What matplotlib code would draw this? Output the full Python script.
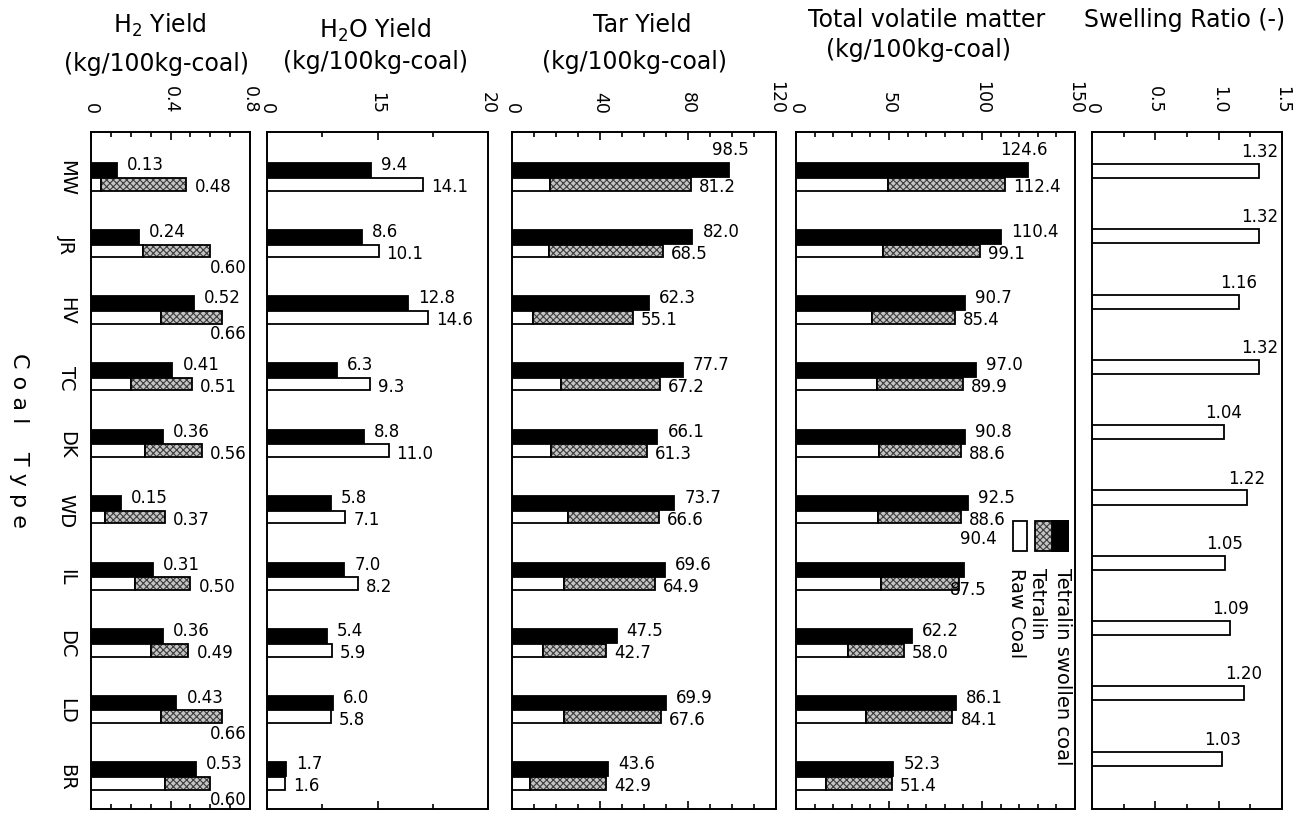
import matplotlib.pyplot as plt
from matplotlib.patches import Rectangle
from matplotlib.ticker import FixedLocator, MultipleLocator

# === DATA ===
coals = ["MW", "JR", "HV", "TC", "DK", "WD", "IL", "DC", "LD", "BR"]

# H2 yield, kg/100kg-coal
h2_swollen = [0.13, 0.24, 0.52, 0.41, 0.36, 0.15, 0.31, 0.36, 0.43, 0.53]
h2_raw = [0.05, 0.26, 0.35, 0.20, 0.27, 0.07, 0.22, 0.30, 0.35, 0.37]
h2_raw_tetralin = [0.48, 0.60, 0.66, 0.51, 0.56, 0.37, 0.50, 0.49, 0.66, 0.60]

# H2O yield
h2o_swollen = [9.4, 8.6, 12.8, 6.3, 8.8, 5.8, 7.0, 5.4, 6.0, 1.7]
h2o_raw = [14.1, 10.1, 14.6, 9.3, 11.0, 7.1, 8.2, 5.9, 5.8, 1.6]

# Tar yield
tar_swollen = [98.5, 82.0, 62.3, 77.7, 66.1, 73.7, 69.6, 47.5, 69.9, 43.6]
tar_raw = [17.3, 17.0, 9.5, 22.3, 17.6, 25.5, 23.6, 14.0, 23.6, 8.0]
tar_raw_tetralin = [81.2, 68.5, 55.1, 67.2, 61.3, 66.6, 64.9, 42.7, 67.6, 42.9]

# Total volatile matter
tvm_swollen = [124.6, 110.4, 90.7, 97.0, 90.8, 92.5, 90.4, 62.2, 86.1, 52.3]
tvm_raw = [49.5, 47.0, 41.0, 43.5, 44.6, 44.0, 45.6, 28.0, 37.6, 16.0]
tvm_raw_tetralin = [112.4, 99.1, 85.4, 89.9, 88.6, 88.6, 87.5, 58.0, 84.1, 51.4]

# Swelling ratio (-)
swelling = [1.32, 1.32, 1.16, 1.32, 1.04, 1.22, 1.05, 1.09, 1.20, 1.03]

# === STYLE ===
plt.rcParams["font.family"] = ["DejaVu Sans"]
plt.rcParams["mathtext.default"] = "regular"
plt.rcParams["hatch.linewidth"] = 0.8

W, H = 1297, 820
PT = 72 / 100  # points per pixel
TOP, BOT = 133, 810
STIP_FC, STIP_HC = "#c4c4c4", "#3c3c3c"
LW = 1.3

fig = plt.figure(figsize=(W / 100, H / 100), dpi=100)


def digit_w(s):
    return sum(5.3 if c == "." else 10.6 for c in s)


def place(ax, val, y, txt, dx, dy, ha):
    ax.annotate(txt, xy=(val, y), xytext=(dx * PT, dy * PT),
                textcoords="offset points", ha=ha, va="center",
                fontsize=12, annotation_clip=False)


def top_label(ax, x0, x1, xmax, val, y, txt, force=None):
    if force:
        place(ax, val, y, txt, *force)
        return
    end = x0 + val / xmax * (x1 - x0)
    if end + 10 + digit_w(txt) > x1 - 1:
        place(ax, val, y, txt, min(20, x1 - 4 - end), 21, "right")
    else:
        place(ax, val, y, txt, 10, 6, "left")


def low_label(ax, x0, x1, xmax, val, y, txt, force=None):
    if force:
        place(ax, val, y, txt, *force)
        return
    end = x0 + val / xmax * (x1 - x0)
    if end + 8 + digit_w(txt) > x1 - 1:
        place(ax, val, y, txt, x1 - 3 - end, -16, "right")
    else:
        place(ax, val, y, txt, 8, -2, "left")


def stipple_barh(ax, y, width, left, height):
    ax.barh(y, width, left=left, height=height, color=STIP_FC,
            hatch="xxxxx", edgecolor=STIP_HC, linewidth=0)
    ax.barh(y, width, left=left, height=height, fill=False,
            edgecolor="black", linewidth=LW)


def setup_axis(ax, xmax, major, labels, minor):
    ax.set_xlim(0, xmax)
    ax.xaxis.set_major_locator(FixedLocator(major))
    ax.set_xticklabels(labels, rotation=-90, fontsize=12.5)
    ax.xaxis.set_minor_locator(MultipleLocator(minor))
    ax.tick_params(axis="x", which="both", direction="in", top=True,
                   bottom=True, labeltop=True, labelbottom=False, width=1.2)
    ax.tick_params(axis="x", which="major", length=6, pad=14)
    ax.tick_params(axis="x", which="minor", length=3.5)
    for sp in ax.spines.values():
        sp.set_linewidth(1.4)


panels = [
    dict(key="h2", px=(91, 250), xmax=0.8, major=[0, 0.4, 0.8],
         labels=["0", "0.4", "0.8"], minor=0.1, fmt="{:.2f}",
         top=h2_swollen, raw=h2_raw, total=h2_raw_tetralin),
    dict(key="h2o", px=(267, 488), xmax=20, major=[0, 10, 20],
         labels=["0", "15", "20"], minor=5, fmt="{:.1f}",
         top=h2o_swollen, raw=h2o_raw, total=None),
    dict(key="tar", px=(512, 776), xmax=120, major=[0, 40, 80, 120],
         labels=["0", "40", "80", "120"], minor=10, fmt="{:.1f}",
         top=tar_swollen, raw=tar_raw, total=tar_raw_tetralin),
    dict(key="tvm", px=(796, 1075), xmax=150, major=[0, 50, 100, 150],
         labels=["0", "50", "100", "150"], minor=10, fmt="{:.1f}",
         top=tvm_swollen, raw=tvm_raw, total=tvm_raw_tetralin),
]

# labels moved by hand in the original to clear the legend
overrides = {("tvm", 6, "top"): (-4, 32, "left"),
             ("tvm", 6, "low"): (-9, -5, "left")}

off = 0.105
axes = {}
for p in panels:
    x0, x1 = p["px"]
    ax = fig.add_axes([x0 / W, 1 - BOT / H, (x1 - x0) / W, (BOT - TOP) / H])
    axes[p["key"]] = ax
    setup_axis(ax, p["xmax"], p["major"], p["labels"], p["minor"])
    ax.set_ylim(9.49, -0.68)
    for i in range(len(coals)):
        ax.barh(i - off, p["top"][i], height=0.21, color="black",
                edgecolor="black", linewidth=LW)
        ax.barh(i + off, p["raw"][i], height=0.19, color="white",
                edgecolor="black", linewidth=LW)
        low_val = p["raw"][i]
        if p["total"] is not None:
            stipple_barh(ax, i + off, p["total"][i] - p["raw"][i],
                         p["raw"][i], 0.19)
            low_val = p["total"][i]
        top_label(ax, x0, x1, p["xmax"], p["top"][i], i - off,
                  p["fmt"].format(p["top"][i]),
                  overrides.get((p["key"], i, "top")))
        low_label(ax, x0, x1, p["xmax"], low_val, i + off,
                  p["fmt"].format(low_val),
                  overrides.get((p["key"], i, "low")))
    if p["key"] == "h2":
        ax.set_yticks(range(len(coals)))
        ax.set_yticklabels(coals, rotation=-90, va="center", fontsize=14)
        ax.tick_params(axis="y", length=0, pad=11)
    else:
        ax.set_yticks([])

# swelling ratio panel
ax5 = fig.add_axes([1092 / W, 1 - BOT / H, (1282 - 1092) / W, (BOT - TOP) / H])
setup_axis(ax5, 1.5, [0, 0.5, 1.0, 1.5], ["0", "0.5", "1.0", "1.5"], 0.25)
ax5.set_ylim(9.77, -0.597)
ax5.set_yticks([])
ax5.barh(range(len(coals)), swelling, height=0.215, color="white",
         edgecolor="black", linewidth=LW)
for i, v in enumerate(swelling):
    place(ax5, v, i, f"{v:.2f}", 0, 20, "center")

# legend inside the total volatile matter panel
axl = axes["tvm"]
axl.add_patch(Rectangle((0.778, 0.381), 0.05, 0.044, transform=axl.transAxes,
                        facecolor="white", edgecolor="black", lw=LW))
axl.add_patch(Rectangle((0.857, 0.381), 0.061, 0.044, transform=axl.transAxes,
                        facecolor=STIP_FC, hatch="xxxxx", edgecolor=STIP_HC, lw=0))
axl.add_patch(Rectangle((0.918, 0.381), 0.058, 0.044, transform=axl.transAxes,
                        facecolor="black", edgecolor="black", lw=LW))
axl.add_patch(Rectangle((0.857, 0.381), 0.119, 0.044, transform=axl.transAxes,
                        fill=False, edgecolor="black", lw=LW))
for xt, s in [(0.792, "Raw Coal"), (0.867, "Tetralin"),
              (0.955, "Tetralin swollen coal")]:
    axl.text(xt, 0.357, s, transform=axl.transAxes, rotation=-90,
             ha="center", va="top", fontsize=14)

# titles
titles = [
    ("H$_2$ Yield", 160, 25), ("(kg/100kg-coal)", 156, 64),
    ("H$_2$O Yield", 375, 30), ("(kg/100kg-coal)", 375, 62),
    ("Tar Yield", 642, 25), ("(kg/100kg-coal)", 634, 62),
    ("Total volatile matter", 927, 20), ("(kg/100kg-coal)", 919, 50),
    ("Swelling Ratio (-)", 1185, 20),
]
for s, x, y in titles:
    fig.text(x / W, 1 - y / H, s, ha="center", va="center", fontsize=17)

fig.text(19 / W, 1 - 440 / H, "C o a l    T y p e", rotation=-90,
         ha="center", va="center", fontsize=16)

fig.savefig("out.png", dpi=100)
